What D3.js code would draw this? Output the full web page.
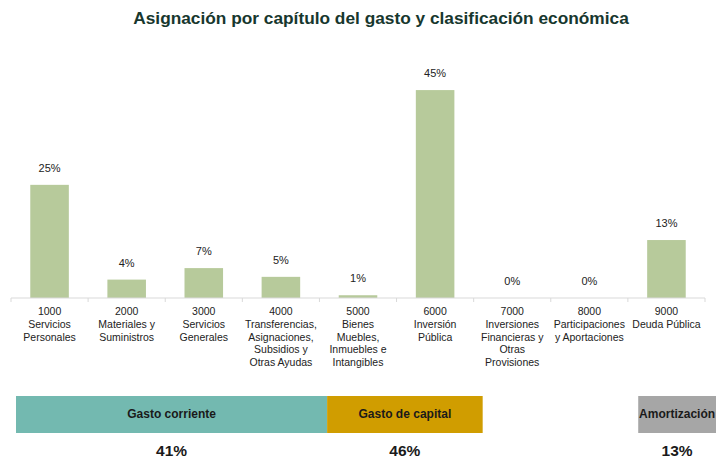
<!DOCTYPE html>
<html>
<head>
<meta charset="utf-8">
<script src="https://cdn.jsdelivr.net/npm/d3@7"></script>
<style>
  body { margin: 0; background: #fff; }
  svg { display: block; font-family: "Liberation Sans", Arial, sans-serif; }
</style>
</head>
<body>
<div id="chart"></div>
<script>

// ------------------------ data ------------------------------

var chapters = ["1000", "2000", "3000", "4000", "5000", "6000", "7000", "8000", "9000"];

var chapterNames = [
	["Servicios", "Personales"],
	["Materiales y", "Suministros"],
	["Servicios", "Generales"],
	["Transferencias,", "Asignaciones,", "Subsidios y", "Otras Ayudas"],
	["Bienes", "Muebles,", "Inmuebles e", "Intangibles"],
	["Inversión", "Pública"],
	["Inversiones", "Financieras y", "Otras", "Provisiones"],
	["Participaciones", "y Aportaciones"],
	["Deuda Pública"]
];

var shares = [0.246, 0.040, 0.065, 0.046, 0.006, 0.452, 0.000, 0.000, 0.126];

var groupNames = ["Gasto corriente", "Gasto de capital", "Amortización"];
var groupShares = [0.41, 0.46, 0.13];
var groupFirst = ["1000", "5000", "9000"];
var groupLast = ["4000", "6000", "9000"];
var groupColours = ["#73b9b0", "#d09d00", "#a6a6a6"];


// ------------------------ chart ------------------------------

var build_chart = function() {

	var svgWidth = 716, svgHeight = 460;

	var svg = d3.select("#chart").append("svg")
			.attr("width", svgWidth)
			.attr("height", svgHeight)
			.attr("viewBox", "0 0 " + svgWidth + " " + svgHeight);

	// title
	svg.append("text")
		.attr("x", 381)
		.attr("y", 24)
		.attr("text-anchor", "middle")
		.attr("font-size", "17.3px")
		.attr("font-weight", "bold")
		.attr("fill", "#17372e")
		.text("Asignación por capítulo del gasto y clasificación económica");

	// set the ranges
	var x = d3.scaleBand()
				.domain(chapters)
				.range([11, 705])
				.paddingInner(0.5)
				.paddingOuter(0.25);

	var xAxisScale = d3.scaleBand()
				.domain(chapters)
				.range([11, 705]);

	var baseline = 298;
	var y = d3.scaleLinear()
				.domain([0, 0.45])
				.range([baseline, 91]);

	var pct = d3.format(".0%");

	// bars
	svg.append("g").selectAll(".bar")
		.data(shares)
		.enter().append("rect")
			.attr("class", "bar")
			.attr("x", function(d, i) { return x(chapters[i]); })
			.attr("width", x.bandwidth())
			.attr("y", function(d) { return y(d); })
			.attr("height", function(d) { return baseline - y(d); })
			.attr("fill", "#b7ca9b");

	// value labels
	svg.append("g").selectAll(".value")
		.data(shares)
		.enter().append("text")
			.attr("class", "value")
			.attr("x", function(d, i) { return x(chapters[i]) + x.bandwidth() / 2; })
			.attr("y", function(d) { return y(d) - 13; })
			.attr("text-anchor", "middle")
			.attr("font-size", "11px")
			.attr("fill", "#222")
			.text(function(d) { return pct(d); });

	// x axis: line with ticks between categories
	var axisX = svg.append("g")
			.attr("transform", "translate(0," + baseline + ")");
	axisX.append("line")
		.attr("x1", xAxisScale.range()[0]).attr("x2", xAxisScale.range()[1])
		.attr("stroke", "#d9d9d9");
	axisX.selectAll(".tick")
		.data(chapters.concat(["end"]))
		.enter().append("line")
			.attr("class", "tick")
			.attr("x1", function(d, i) { return xAxisScale.range()[0] + i * xAxisScale.step(); })
			.attr("x2", function(d, i) { return xAxisScale.range()[0] + i * xAxisScale.step(); })
			.attr("y1", 0).attr("y2", 4)
			.attr("stroke", "#d9d9d9");

	// category labels
	var labels = axisX.selectAll(".cat")
		.data(chapters)
		.enter().append("text")
			.attr("class", "cat")
			.attr("text-anchor", "middle")
			.attr("font-size", "10.5px")
			.attr("fill", "#222")
			.attr("transform", function(d) { return "translate(" + (xAxisScale(d) + xAxisScale.bandwidth() / 2) + ",17)"; });
	labels.selectAll("tspan")
		.data(function(d, i) { return [d].concat(chapterNames[i]); })
		.enter().append("tspan")
			.attr("x", 0)
			.attr("dy", function(d, i) { return i === 0 ? 0 : 12.8; })
			.text(function(d) { return d; });


	// ------------------------ economic classification band ------------------------------

	var xg = d3.scaleBand()
				.domain(chapters)
				.range([16, 716]);

	var groups = svg.append("g").selectAll(".group")
		.data(groupNames)
		.enter().append("g")
			.attr("class", "group");

	groups.append("rect")
		.attr("x", function(d, i) { return xg(groupFirst[i]); })
		.attr("width", function(d, i) { return xg(groupLast[i]) + xg.bandwidth() - xg(groupFirst[i]); })
		.attr("y", 396)
		.attr("height", 37)
		.attr("fill", function(d, i) { return groupColours[i]; });

	groups.append("text")
		.attr("x", function(d, i) { return (xg(groupFirst[i]) + xg(groupLast[i]) + xg.bandwidth()) / 2; })
		.attr("y", 418)
		.attr("text-anchor", "middle")
		.attr("font-size", "12px")
		.attr("font-weight", "bold")
		.attr("fill", "#1a1a1a")
		.text(function(d) { return d; });

	groups.append("text")
		.attr("x", function(d, i) { return (xg(groupFirst[i]) + xg(groupLast[i]) + xg.bandwidth()) / 2; })
		.attr("y", 456)
		.attr("text-anchor", "middle")
		.attr("font-size", "15.5px")
		.attr("font-weight", "bold")
		.attr("fill", "#1a1a1a")
		.text(function(d, i) { return pct(groupShares[i]); });

}

build_chart();
</script>
</body>
</html>
